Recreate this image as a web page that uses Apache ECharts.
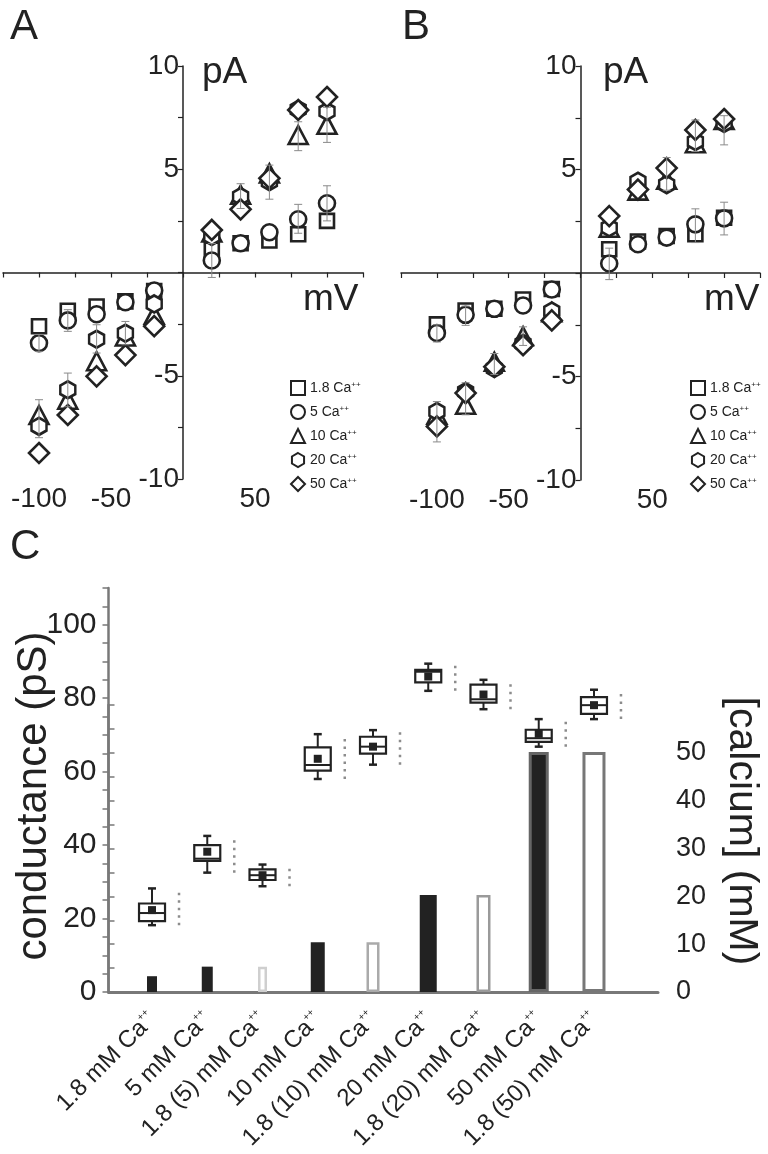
<!DOCTYPE html>
<html>
<head>
<meta charset="utf-8">
<script src="https://cdn.jsdelivr.net/npm/echarts@6/dist/echarts.min.js"></script>
<style>
html,body{margin:0;padding:0;background:#fff;}
#chart{width:768px;height:1154px;}
</style>
</head>
<body>
<div id="chart"></div>
<script>
// ---------- DATA ----------
const voltages = [-100, -80, -60, -40, -20, 20, 40, 60, 80, 100];
const seriesNames = ['1.8 Ca', '5 Ca', '10 Ca', '20 Ca', '50 Ca'];

// Panel A (pA)
const A_ca18 = [-2.6, -1.85, -1.65, -1.4, -0.9, 1.1, 1.42, 1.55, 1.85, 2.5];
const A_ca5  = [-3.42, -2.32, -2.02, -1.44, -0.87, 0.58, 1.42, 1.95, 2.58, 3.35];
const A_ca10 = [-6.9, -6.16, -4.3, -3.1, -2.05, 1.94, 3.76, 4.8, 6.66, 7.15];
const A_ca20 = [-7.45, -5.68, -3.23, -2.94, -1.52, 1.74, 3.68, 4.4, 7.9, 7.8];
const A_ca50 = [-8.74, -6.9, -5.03, -4.0, -2.6, 2.06, 3.06, 4.56, 7.87, 8.5];

// Panel B (pA)
const B_ca18 = [-2.48, -1.81, -1.73, -1.28, -0.77, 1.15, 1.52, 1.79, 1.87, 2.67];
const B_ca5  = [-2.9, -2.02, -1.73, -1.57, -0.8, 0.46, 1.39, 1.71, 2.35, 2.64];
const B_ca10 = [-6.85, -6.37, -4.29, -3.06, -1.9, 2.19, 3.98, 4.51, 6.27, 7.39];
const B_ca20 = [-6.69, -5.73, -4.61, -3.41, -1.84, 2.19, 4.43, 4.27, 6.35, 7.23];
const B_ca50 = [-7.41, -5.8, -4.53, -3.49, -2.29, 2.75, 4.03, 5.07, 6.91, 7.44];

// error bars [mV, low, high]
const errA = [[100, 6.3, 8.0], [100, 2.5, 4.2], [80, 5.9, 7.3], [80, 1.9, 3.3], [60, 3.55, 5.2],
  [40, 3.1, 4.3], [20, -0.24, 1.4], [-100, -8.0, -6.16], [-100, -3.82, -3.0], [-80, -6.5, -4.87],
  [-80, -2.85, -1.8], [-60, -3.9, -2.53], [-40, -3.5, -2.37]];
const errB = [[100, 6.19, 7.6], [100, 1.84, 3.42], [80, 5.87, 7.39], [80, 1.47, 3.1], [60, 4.0, 5.58],
  [20, -0.32, 1.2], [-100, -8.16, -6.21], [-100, -3.33, -2.5], [-80, -6.85, -5.3], [-80, -2.53, -1.6],
  [-60, -4.9, -3.89], [-40, -3.5, -2.6]];

const ivXLabels = [-100, -50, 50];
const ivYLabels = [-10, -5, 5, 10];

// Panel C
const conditions = ['1.8 mM Ca', '5 mM Ca', '1.8 (5) mM Ca', '10 mM Ca', '1.8 (10) mM Ca',
  '20 mM Ca', '1.8 (20) mM Ca', '50 mM Ca', '1.8 (50) mM Ca'];
const calcium = [3.3, 5.3, 5.3, 10.4, 10.4, 20.3, 20.3, 50.2, 50.2];
const gMin  = [18.2, 32.5, 28.8, 58.0, 61.9, 82.0, 77.0, 66.8, 74.3];
const gQ1   = [19.3, 35.7, 30.5, 60.3, 64.9, 84.3, 78.8, 68.1, 75.7];
const gMed  = [21.5, 36.3, 31.8, 61.8, 66.8, 87.2, 79.7, 69.1, 78.1];
const gQ3   = [24.1, 40.0, 33.4, 66.6, 69.5, 87.7, 83.7, 71.4, 80.3];
const gMax  = [28.2, 42.5, 34.7, 70.2, 71.3, 89.4, 85.0, 74.3, 82.3];
const gMean = [22.3, 38.2, 31.8, 63.5, 66.8, 85.9, 81.0, 70.3, 78.1];
const leftTickLabels = [0, 20, 40, 60, 80, 100];
const rightTickLabels = [0, 10, 20, 30, 40, 50];

// ---------- STYLES ----------
const FONT = "'Liberation Sans', Arial, sans-serif";
const INK = '#222';
const GRAYAX = '#787878';
const barFill   = ['#222', '#222', '#fff', '#222', '#fff', '#222', '#fff', '#222', '#fff'];
const barStroke = ['#222', '#222', '#cfcfcf', '#222', '#aaa', '#222', '#9a9a9a', '#666', '#777'];
const barWidth  = [10, 11, 9, 14, 13, 17, 14, 20, 23];
const barLine   = [0, 0, 2.5, 0, 2.5, 0, 2.5, 3, 3];

const hexPath = 'path://M0,-10 L8.66,-5 L8.66,5 L0,10 L-8.66,5 L-8.66,-5 Z';
const symbols = ['rect', 'circle', 'triangle', hexPath, 'diamond'];
const symbolSizes = [14, 16, [19, 18], [15, 17], [20, 20]];

function pts(arr) { return voltages.map((v, i) => [v, arr[i]]); }

function ivSeries(panelIdx, arrays) {
  return arrays.map((arr, k) => ({
    type: 'scatter', name: seriesNames[k], xAxisIndex: panelIdx, yAxisIndex: panelIdx,
    data: pts(arr), symbol: symbols[k], symbolSize: symbolSizes[k],
    itemStyle: { color: '#fff', borderColor: INK, borderWidth: 2.6, opacity: 1 },
    z: 3 + k * 0.01
  }));
}

function errSeries(panelIdx, data) {
  return {
    type: 'custom', xAxisIndex: panelIdx, yAxisIndex: panelIdx, data: data, z: 4,
    renderItem: (params, api) => {
      const lo = api.coord([api.value(0), api.value(1)]);
      const hi = api.coord([api.value(0), api.value(2)]);
      const x = lo[0], c = 4;
      const st = { stroke: '#8a8a8a', lineWidth: 1 };
      return { type: 'group', children: [
        { type: 'line', shape: { x1: x, y1: lo[1], x2: x, y2: hi[1] }, style: st },
        { type: 'line', shape: { x1: x - c, y1: lo[1], x2: x + c, y2: lo[1] }, style: st },
        { type: 'line', shape: { x1: x - c, y1: hi[1], x2: x + c, y2: hi[1] }, style: st }
      ] };
    }
  };
}

const hiddenAxis = { show: false, splitLine: { show: false } };

function ivX(g) {
  return {
    gridIndex: g, type: 'value', min: -125, max: 125, interval: 25,
    axisLine: { onZero: true, lineStyle: { color: INK, width: 1.5 } },
    axisTick: { show: true, length: 5, lineStyle: { color: INK, width: 1.2 } },
    axisLabel: { fontSize: 28, color: INK, margin: 6, fontFamily: FONT,
      formatter: v => ivXLabels.includes(v) ? String(v) : '' },
    splitLine: { show: false }
  };
}
function ivYHidden(g) {
  return Object.assign({ gridIndex: g, type: 'value', min: -10, max: 10 }, hiddenAxis);
}
function ivYVisible(g) {
  return {
    gridIndex: g, type: 'value', min: -10, max: 10, interval: 2.5, position: 'left',
    axisLine: { onZero: false, lineStyle: { color: INK, width: 1.5 } },
    axisTick: { show: true, length: 5, lineStyle: { color: INK, width: 1.2 } },
    axisLabel: { fontSize: 28, color: INK, margin: 4, fontFamily: FONT,
      formatter: v => ivYLabels.includes(v) ? String(v) : '' },
    splitLine: { show: false }
  };
}

function legendFor(left) {
  return {
    orient: 'vertical', left: left, top: 375, itemWidth: 14, itemHeight: 14, itemGap: 8,
    data: seriesNames, selectedMode: false,
    formatter: n => `{a|${n}}{s|++}`,
    textStyle: { fontFamily: FONT, color: INK, fontSize: 14,
      rich: { a: { fontSize: 14, color: INK, fontFamily: FONT },
              s: { fontSize: 8, color: INK, fontFamily: FONT, verticalAlign: 'top', padding: [0, 0, 6, 0] } } }
  };
}

const G = { containLabel: false, outerBoundsMode: 'none' };

const option = {
  animation: false,
  backgroundColor: '#fff',
  textStyle: { fontFamily: FONT },
  legend: [legendFor(285), legendFor(685)],
  grid: [
    Object.assign({ left: 3, top: 66, width: 360, height: 413 }, G),        // 0 A data
    Object.assign({ left: 401, top: 66, width: 359, height: 414 }, G),      // 1 B data
    Object.assign({ left: 124.4, top: 588, width: 497.2, height: 404 }, G), // 2 C boxes
    Object.assign({ left: 108.5, top: 705, width: 549.5, height: 287 }, G), // 3 C frame/right axis
    Object.assign({ left: 124.4, top: 705, width: 497.2, height: 287 }, G), // 4 C bars
    Object.assign({ left: 183, top: 66, width: 180, height: 413 }, G),      // 5 A y axis
    Object.assign({ left: 580.5, top: 66, width: 179.5, height: 414 }, G)   // 6 B y axis
  ],
  xAxis: [
    ivX(0), ivX(1),
    { gridIndex: 2, type: 'category', data: conditions, boundaryGap: true,
      axisLine: { show: false }, axisTick: { show: false },
      axisLabel: { interval: 0, rotate: 45, margin: 24, color: INK, fontSize: 24, fontFamily: FONT,
        formatter: v => `{a|${v}}{s|++}`,
        rich: { a: { fontSize: 24, color: INK, fontFamily: FONT },
                s: { fontSize: 10, color: INK, fontFamily: FONT, verticalAlign: 'top', padding: [0, 0, 10, 0] } } },
      splitLine: { show: false } },
    { gridIndex: 3, type: 'value', min: 0, max: 1,
      axisLine: { show: true, onZero: false, lineStyle: { color: GRAYAX, width: 3 } },
      axisTick: { show: false }, axisLabel: { show: false }, splitLine: { show: false } },
    { gridIndex: 4, type: 'category', data: conditions, show: false },
    Object.assign({ gridIndex: 5, type: 'value', min: 0, max: 1 }, hiddenAxis),
    Object.assign({ gridIndex: 6, type: 'value', min: 0, max: 1 }, hiddenAxis)
  ],
  yAxis: [
    ivYHidden(0), ivYHidden(1),
    { gridIndex: 2, type: 'value', min: 0, max: 110, interval: 5, offset: 15.9,
      axisLine: { show: true, lineStyle: { color: GRAYAX, width: 2.5 } },
      axisTick: { show: true, length: 6, lineStyle: { color: GRAYAX, width: 1.5 } },
      axisLabel: { fontSize: 30, color: INK, margin: 12, fontFamily: FONT,
        formatter: v => (leftTickLabels.includes(v) ? String(v) : '') },
      splitLine: { show: false } },
    { gridIndex: 3, type: 'value', position: 'right', min: 0, max: 60, interval: 5,
      axisLine: { show: true, lineStyle: { color: GRAYAX, width: 2.5 } },
      axisTick: { show: true, length: 6, lineStyle: { color: GRAYAX, width: 1.5 } },
      axisLabel: { fontSize: 27, color: INK, margin: 18, fontFamily: FONT,
        formatter: v => (rightTickLabels.includes(v) ? String(v) : '') },
      splitLine: { show: false } },
    Object.assign({ gridIndex: 4, type: 'value', min: 0, max: 60 }, hiddenAxis),
    ivYVisible(5), ivYVisible(6)
  ],
  series: [
    ...ivSeries(0, [A_ca18, A_ca5, A_ca10, A_ca20, A_ca50]),
    errSeries(0, errA),
    ...ivSeries(1, [B_ca18, B_ca5, B_ca10, B_ca20, B_ca50]),
    errSeries(1, errB),
    { // calcium bars
      type: 'custom', xAxisIndex: 4, yAxisIndex: 4, z: 2,
      data: calcium.map((v, i) => [i, v]),
      renderItem: (params, api) => {
        const i = params.dataIndex;
        const top = api.coord([api.value(0), api.value(1)]);
        const bot = api.coord([api.value(0), 0]);
        const w = barWidth[i], lw = barLine[i];
        return { type: 'rect',
          shape: { x: top[0] - w / 2 + lw / 2, y: top[1] + lw / 2, width: w - lw, height: bot[1] - top[1] - lw },
          style: { fill: barFill[i], stroke: lw ? barStroke[i] : null, lineWidth: lw } };
      }
    },
    { // conductance boxes
      type: 'custom', xAxisIndex: 2, yAxisIndex: 2, z: 5,
      data: conditions.map((c, i) => [i, gMin[i], gQ1[i], gMed[i], gQ3[i], gMax[i], gMean[i]]),
      renderItem: (params, api) => {
        const idx = api.value(0);
        const P = v => api.coord([idx, v]);
        const x = P(0)[0];
        const yMin = P(api.value(1))[1], yQ1 = P(api.value(2))[1], yMed = P(api.value(3))[1];
        const yQ3 = P(api.value(4))[1], yMax = P(api.value(5))[1], yMean = P(api.value(6))[1];
        const bw = 26, cap = 4, ms = 8, dx = 27;
        const st = { stroke: INK, lineWidth: 2, fill: null };
        return { type: 'group', children: [
          { type: 'line', shape: { x1: x + dx, y1: yMin, x2: x + dx, y2: yMax },
            style: { stroke: '#8c8c8c', lineWidth: 2.5, lineDash: [2.5, 5] } },
          { type: 'line', shape: { x1: x, y1: yMax, x2: x, y2: yQ3 }, style: st },
          { type: 'line', shape: { x1: x, y1: yQ1, x2: x, y2: yMin }, style: st },
          { type: 'line', shape: { x1: x - cap, y1: yMax, x2: x + cap, y2: yMax }, style: { stroke: INK, lineWidth: 2.5 } },
          { type: 'line', shape: { x1: x - cap, y1: yMin, x2: x + cap, y2: yMin }, style: { stroke: INK, lineWidth: 2.5 } },
          { type: 'rect', shape: { x: x - bw / 2, y: yQ3, width: bw, height: yQ1 - yQ3 },
            style: { stroke: INK, lineWidth: 2.2, fill: '#fff' } },
          { type: 'line', shape: { x1: x - bw / 2, y1: yMed, x2: x + bw / 2, y2: yMed }, style: st },
          { type: 'rect', shape: { x: x - ms / 2, y: yMean - ms / 2, width: ms, height: ms },
            style: { fill: INK, stroke: null } }
        ] };
      }
    }
  ],
  graphic: [
    { type: 'text', left: 10, top: 6, style: { text: 'A', fill: INK, font: `42px ${FONT}` } },
    { type: 'text', left: 402, top: 6, style: { text: 'B', fill: INK, font: `42px ${FONT}` } },
    { type: 'text', left: 10, top: 526, style: { text: 'C', fill: INK, font: `42px ${FONT}` } },
    { type: 'text', left: 202, top: 54, style: { text: 'pA', fill: INK, font: `37px ${FONT}` } },
    { type: 'text', left: 603, top: 54, style: { text: 'pA', fill: INK, font: `37px ${FONT}` } },
    { type: 'text', left: 303, top: 281, style: { text: 'mV', fill: INK, font: `37px ${FONT}` } },
    { type: 'text', left: 704, top: 281, style: { text: 'mV', fill: INK, font: `37px ${FONT}` } },
    { type: 'text', x: 34, y: 796, rotation: Math.PI / 2,
      style: { text: 'conductance (pS)', fill: INK, font: `42px ${FONT}`, textAlign: 'center', textVerticalAlign: 'middle' } },
    { type: 'text', x: 741, y: 831, rotation: -Math.PI / 2,
      style: { text: '[calcium] (mM)', fill: INK, font: `41px ${FONT}`, textAlign: 'center', textVerticalAlign: 'middle' } }
  ]
};

const chart = echarts.init(document.getElementById('chart'), null, { renderer: 'canvas' });
chart.setOption(option);
</script>
</body>
</html>
